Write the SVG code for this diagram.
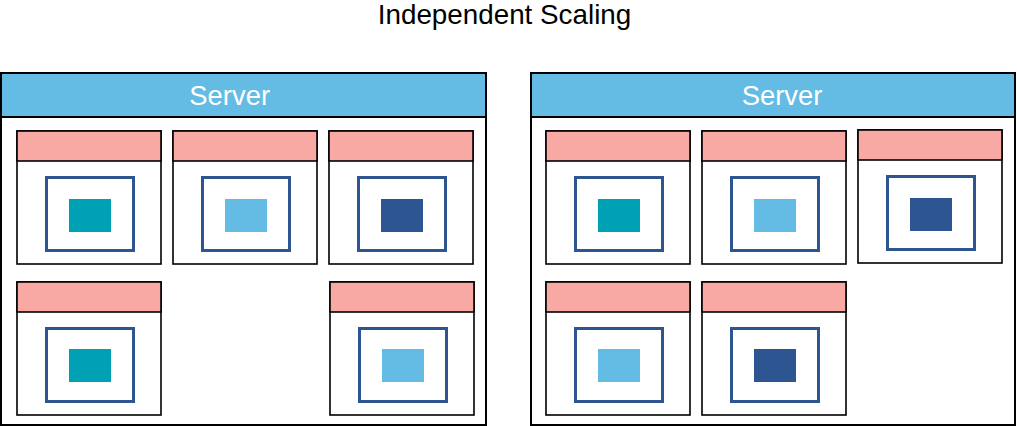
<svg xmlns="http://www.w3.org/2000/svg" xmlns:xlink="http://www.w3.org/1999/xlink" width="1017" height="426" viewBox="0 0 1017 426">
<style>
text{font-family:"Liberation Sans",Arial,sans-serif}
.title{font-size:27.8px;fill:#000}
.stitle{font-size:27.4px;fill:#fff}
.srv{fill:#fff;stroke:#000;stroke-width:2}
.shdr{fill:#64bbe3;stroke:#000;stroke-width:2}
.cbody{fill:#fff;stroke:#000;stroke-width:1.6}
.chdr{fill:#f8a9a4;stroke:#000;stroke-width:1.6}
.frame{fill:none;stroke:#2d5591;stroke-width:3}
.teal{fill:#00a1b5}
.lblue{fill:#64bbe3}
.dblue{fill:#2d5591}
</style>
<defs>
<g id="ctr">
<rect class="cbody" x="0" y="0" width="144" height="133"/>
<rect class="chdr" x="0" y="0" width="144" height="30"/>
<rect class="frame" x="29.5" y="46.5" width="87" height="73"/>
</g>
</defs>
<text class="title" x="504.5" y="24" text-anchor="middle">Independent Scaling</text>

<g id="server-left">
<rect class="srv" x="1" y="73" width="485" height="352"/>
<rect class="shdr" x="1" y="73" width="485" height="44"/>
<text class="stitle" x="229.7" y="104.5" text-anchor="middle">Server</text>
</g>
<g id="server-right">
<rect class="srv" x="531" y="73" width="484" height="352"/>
<rect class="shdr" x="531" y="73" width="484" height="44"/>
<text class="stitle" x="782" y="105" text-anchor="middle">Server</text>
</g>

<g id="l1" transform="translate(17,131)"><use xlink:href="#ctr"/><rect class="teal" x="52" y="68" width="42" height="33"/></g>
<g id="l2" transform="translate(173,131)"><use xlink:href="#ctr"/><rect class="lblue" x="52" y="68" width="42" height="33"/></g>
<g id="l3" transform="translate(329,131)"><use xlink:href="#ctr"/><rect class="dblue" x="52" y="68" width="42" height="33"/></g>
<g id="l4" transform="translate(17,282)"><use xlink:href="#ctr"/><rect class="teal" x="52" y="67" width="42" height="33"/></g>
<g id="l5" transform="translate(330,282)"><use xlink:href="#ctr"/><rect class="lblue" x="52" y="67" width="42" height="33"/></g>

<g id="r1" transform="translate(546,131)"><use xlink:href="#ctr"/><rect class="teal" x="52" y="68" width="42" height="33"/></g>
<g id="r2" transform="translate(702,131)"><use xlink:href="#ctr"/><rect class="lblue" x="52" y="68" width="42" height="33"/></g>
<g id="r3" transform="translate(858,130)"><use xlink:href="#ctr"/><rect class="dblue" x="52" y="68" width="42" height="33"/></g>
<g id="r4" transform="translate(546,282)"><use xlink:href="#ctr"/><rect class="lblue" x="52" y="67" width="42" height="33"/></g>
<g id="r5" transform="translate(702,282)"><use xlink:href="#ctr"/><rect class="dblue" x="52" y="67" width="42" height="33"/></g>

<g id="connectors"/>
</svg>
